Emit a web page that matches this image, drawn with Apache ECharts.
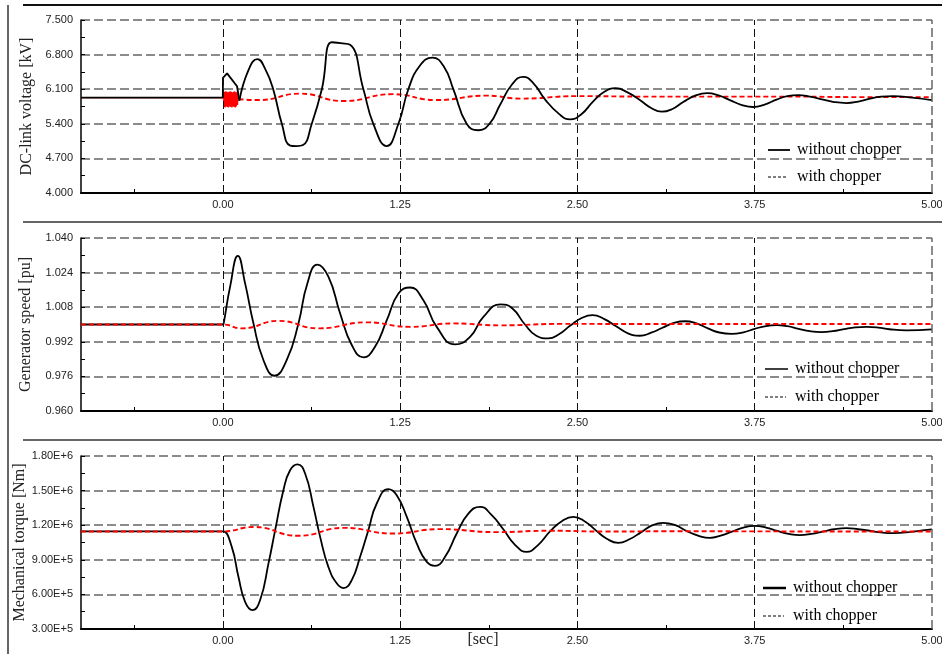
<!DOCTYPE html>
<html>
<head>
<meta charset="utf-8">
<script src="https://cdn.jsdelivr.net/npm/echarts@6/dist/echarts.min.js"></script>
<style>
html,body{margin:0;padding:0;background:#fff;}
#c{width:942px;height:654px;}
</style>
</head>
<body>
<div id="c"></div>
<script>
// ---------- axis ticks ----------
const X_TICKS = [0, 1.25, 2.5, 3.75, 5];
const X_TICK_LABELS = ['0.00', '1.25', '2.50', '3.75', '5.00'];
const X_MINOR_TICKS = [-0.625, 0.625, 1.875, 3.125, 4.375];

const Y1_TICK_LABELS = ['4.000', '4.700', '5.400', '6.100', '6.800', '7.500'];
const Y2_TICK_LABELS = ['0.960', '0.976', '0.992', '1.008', '1.024', '1.040'];
const Y3_TICK_LABELS = ['3.00E+5', '6.00E+5', '9.00E+5', '1.20E+6', '1.50E+6', '1.80E+6'];

// ---------- Panel 1 : DC-link voltage [kV] ----------
const T1_BLACK_EARLY = [-1, 0, 0.001, 0.03, 0.10, 0.117];
const V1_BLACK_EARLY = [5.93, 5.93, 6.33, 6.42, 6.16, 5.87];
const T1_BLACK = [0.117, 0.18, 0.244, 0.30, 0.355, 0.416, 0.475, 0.52, 0.565, 0.627, 0.698, 0.768, 0.83, 0.897, 0.991, 1.061, 1.155, 1.238, 1.308, 1.39, 1.477, 1.56, 1.625, 1.719, 1.80, 1.88, 1.954, 2.04, 2.118, 2.19, 2.27, 2.37, 2.448, 2.53, 2.61, 2.69, 2.77, 2.85, 2.94, 3.02, 3.094, 3.17, 3.246, 3.33, 3.415, 3.50, 3.575, 3.66, 3.74, 3.82, 3.904, 3.98, 4.056, 4.14, 4.233, 4.31, 4.397, 4.48, 4.562, 4.64, 4.726, 4.86, 5.0];
const V1_BLACK = [5.87, 6.48, 6.71, 6.50, 6.10, 5.40, 4.96, 4.95, 4.97, 5.40, 6.10, 7.05, 7.03, 7.00, 6.10, 5.40, 4.95, 5.40, 6.10, 6.58, 6.74, 6.55, 6.10, 5.40, 5.27, 5.40, 5.78, 6.20, 6.35, 6.22, 5.90, 5.60, 5.49, 5.60, 5.85, 6.05, 6.12, 6.04, 5.88, 5.72, 5.645, 5.70, 5.84, 5.97, 6.02, 5.97, 5.88, 5.78, 5.74, 5.79, 5.89, 5.96, 5.98, 5.95, 5.89, 5.84, 5.82, 5.85, 5.91, 5.95, 5.96, 5.93, 5.88];
const T1_RED_EARLY = [-1, 0, 0.004, 0.008, 0.012, 0.016, 0.020, 0.024, 0.028, 0.032, 0.036, 0.040, 0.044, 0.048, 0.052, 0.056, 0.060, 0.064, 0.068, 0.072, 0.076, 0.080, 0.084, 0.088, 0.092, 0.096, 0.100, 0.104, 0.108, 0.112];
const V1_RED_EARLY = [5.93, 5.93, 6.06, 5.74, 6.05, 5.73, 6.06, 5.75, 6.05, 5.74, 6.04, 5.73, 6.05, 5.75, 6.06, 5.74, 6.05, 5.73, 6.04, 5.75, 6.05, 5.74, 6.06, 5.73, 6.04, 5.75, 6.05, 5.78, 6.00, 5.90];
const T1_RED = [0.112, 0.25, 0.545, 0.85, 1.2, 1.5, 1.86, 2.1, 2.5, 3.0, 3.5, 4.0, 4.5, 5.0];
const V1_RED = [5.90, 5.88, 6.01, 5.86, 6.00, 5.88, 5.97, 5.91, 5.96, 5.95, 5.95, 5.95, 5.94, 5.94];

// ---------- Panel 2 : Generator speed [pu] ----------
const T2_BLACK = [-1, 0, 0.005, 0.051, 0.106, 0.157, 0.216, 0.286, 0.364, 0.451, 0.533, 0.596, 0.667, 0.745, 0.827, 0.909, 0.991, 1.073, 1.156, 1.238, 1.32, 1.414, 1.508, 1.637, 1.743, 1.837, 1.958, 2.04, 2.13, 2.21, 2.294, 2.37, 2.45, 2.53, 2.607, 2.69, 2.77, 2.86, 2.94, 3.02, 3.10, 3.18, 3.258, 3.34, 3.42, 3.50, 3.587, 3.67, 3.75, 3.83, 3.904, 3.98, 4.06, 4.14, 4.221, 4.30, 4.38, 4.46, 4.538, 4.62, 4.70, 4.82, 5.0];
const V2_BLACK = [1.000, 1.000, 1.0002, 1.0174, 1.0317, 1.019, 1.0005, 0.9836, 0.9763, 0.9836, 1.0005, 1.019, 1.0277, 1.022, 1.0051, 0.9905, 0.9848, 0.9897, 1.002, 1.0143, 1.0171, 1.0112, 0.9989, 0.9908, 0.9943, 1.0035, 1.0093, 1.0075, 1.000, 0.9948, 0.9936, 0.9955, 0.9995, 1.003, 1.0043, 1.0025, 0.9993, 0.9958, 0.9948, 0.9962, 0.9985, 1.0007, 1.0015, 1.0005, 0.9982, 0.9963, 0.9957, 0.9964, 0.998, 0.9993, 0.9997, 0.9992, 0.998, 0.9969, 0.9965, 0.9969, 0.9979, 0.9987, 0.9989, 0.9986, 0.9978, 0.9973, 0.9977];
const T2_RED = [-1, 0, 0.134, 0.392, 0.674, 1.015, 1.32, 1.625, 1.954, 2.4, 3.0, 4.0, 5.0];
const V2_RED = [1.000, 1.000, 0.9982, 1.0017, 0.9982, 1.001, 0.9989, 1.0005, 0.9996, 1.0003, 1.0002, 1.0002, 1.0002];

// ---------- Panel 3 : Mechanical torque [Nm] ----------
const T3_BLACK = [-1, 0, 0.005, 0.063, 0.11, 0.157, 0.209, 0.263, 0.322, 0.369, 0.427, 0.474, 0.526, 0.58, 0.639, 0.686, 0.744, 0.803, 0.85, 0.909, 0.968, 1.026, 1.085, 1.167, 1.226, 1.297, 1.367, 1.438, 1.496, 1.567, 1.649, 1.731, 1.813, 1.896, 1.98, 2.06, 2.142, 2.224, 2.31, 2.39, 2.471, 2.55, 2.63, 2.71, 2.788, 2.87, 2.95, 3.03, 3.105, 3.19, 3.27, 3.35, 3.434, 3.51, 3.59, 3.67, 3.751, 3.83, 3.91, 3.99, 4.068, 4.15, 4.23, 4.31, 4.397, 4.48, 4.56, 4.64, 4.726, 4.87, 5.0];
const V3_BLACK = [1.146e6, 1.146e6, 1.146e6, 1.012e6, 7.53e5, 5.36e5, 4.64e5, 5.51e5, 8.69e5, 1.157e6, 1.503e6, 1.676e6, 1.728e6, 1.648e6, 1.359e6, 1.099e6, 8.39e5, 6.96e5, 6.55e5, 7.24e5, 9.26e5, 1.157e6, 1.388e6, 1.512e6, 1.46e6, 1.272e6, 1.042e6, 8.82e5, 8.48e5, 9.26e5, 1.128e6, 1.301e6, 1.359e6, 1.287e6, 1.16e6, 1.03e6, 9.69e5, 1.03e6, 1.15e6, 1.235e6, 1.272e6, 1.235e6, 1.155e6, 1.08e6, 1.047e6, 1.08e6, 1.14e6, 1.2e6, 1.22e6, 1.2e6, 1.15e6, 1.11e6, 1.09e6, 1.11e6, 1.145e6, 1.18e6, 1.194e6, 1.18e6, 1.15e6, 1.125e6, 1.114e6, 1.125e6, 1.145e6, 1.165e6, 1.174e6, 1.165e6, 1.152e6, 1.137e6, 1.131e6, 1.145e6, 1.163e6];
const T3_RED = [-1, 0, 0.216, 0.533, 0.85, 1.2, 1.53, 1.93, 2.3, 2.7, 3.2, 4.0, 5.0];
const V3_RED = [1.146e6, 1.146e6, 1.185e6, 1.108e6, 1.177e6, 1.128e6, 1.166e6, 1.14e6, 1.152e6, 1.145e6, 1.148e6, 1.146e6, 1.146e6];

const SERIES_NAMES = ['without chopper', 'with chopper'];
const Y_NAMES = ['DC-link voltage [kV]', 'Generator speed [pu]', 'Mechanical torque [Nm]'];

// ---------- build ----------
function zip(t, v) { return t.map((x, i) => [x, v[i]]); }

const grids = [
  { left: 81, right: 10, top: 20, height: 173, outerBoundsMode: 'none', containLabel: false },
  { left: 81, right: 10, top: 238, height: 173, outerBoundsMode: 'none', containLabel: false },
  { left: 81, right: 10, top: 456, height: 173, outerBoundsMode: 'none', containLabel: false }
];
const yCfg = [
  { min: 4.0, max: 7.5, interval: 0.7, labels: Y1_TICK_LABELS, gap: 46 },
  { min: 0.96, max: 1.04, interval: 0.016, labels: Y2_TICK_LABELS, gap: 47 },
  { min: 3e5, max: 1.8e6, interval: 3e5, labels: Y3_TICK_LABELS, gap: 53 }
];

const xAxes = grids.map((g, i) => ({
  type: 'value', gridIndex: i, min: -1, max: 5,
  axisLine: { show: true, onZero: false, lineStyle: { color: '#000', width: 2 } },
  axisTick: { show: true, inside: true, length: 4, customValues: X_MINOR_TICKS, lineStyle: { color: '#000', width: 1 } },
  axisLabel: {
    show: true, customValues: X_TICKS, margin: 6,
    fontFamily: 'Liberation Sans, Arial, sans-serif', fontSize: 11, color: '#222',
    formatter: v => X_TICK_LABELS[X_TICKS.indexOf(+v)] ?? ''
  },
  splitLine: { show: false }
}));

const yAxes = yCfg.map((c, i) => ({
  type: 'value', gridIndex: i, min: c.min, max: c.max, interval: c.interval,
  name: Y_NAMES[i], nameLocation: 'middle', nameRotate: 90, nameGap: c.gap, nameMoveOverlap: false,
  nameTextStyle: { fontFamily: 'Liberation Serif, Times New Roman, serif', fontSize: 16, color: '#222' },
  axisLine: { show: true, onZero: false, lineStyle: { color: '#000', width: 1.5 } },
  axisTick: { show: true, inside: true, length: 4, lineStyle: { color: '#000' } },
  minorTick: { show: true, splitNumber: 2, length: 4, lineStyle: { color: '#000', width: 1 } },
  axisLabel: {
    margin: 8, fontFamily: 'Liberation Sans, Arial, sans-serif', fontSize: 11, color: '#222',
    formatter: v => c.labels[Math.round((v - c.min) / c.interval)]
  },
  splitLine: { show: true, showMinLine: false, lineStyle: { color: '#666', width: 1.5, type: [9, 4] } }
}));

const blackStyle = { color: '#000', width: 1.8, type: 'solid' };
const redStyle = { color: '#ff0000', width: 1.9, type: [5, 3] };

function line(name, data, idx, style, smooth, z) {
  return {
    name: name, type: 'line', xAxisIndex: idx, yAxisIndex: idx,
    data: data, showSymbol: false, symbol: 'none', smooth: smooth,
    lineStyle: style, itemStyle: { color: style.color }, z: z, animation: false, silent: true
  };
}

function gridLineSeries(idx, yMin) {
  return {
    type: 'line', xAxisIndex: idx, yAxisIndex: idx, data: [[0, yMin]],
    symbol: 'none', lineStyle: { opacity: 0 }, z: 1, silent: true, animation: false,
    markLine: {
      silent: true, symbol: 'none', animation: false, label: { show: false },
      data: X_TICKS.map(v => ({
        xAxis: v,
        lineStyle: v === 5 ? { color: '#666', width: 1.5, type: [9, 4] } : { color: '#111', width: 1, type: [8, 4] }
      }))
    }
  };
}

const SM = 0.5;
const series = [
  gridLineSeries(0, 4.0), gridLineSeries(1, 0.96), gridLineSeries(2, 3e5),
  line(SERIES_NAMES[1], zip(T1_RED_EARLY, V1_RED_EARLY), 0, { color: '#ff0000', width: 1.2, type: 'solid' }, false, 3),
  line(SERIES_NAMES[1], zip(T1_RED, V1_RED), 0, redStyle, SM, 3),
  line(SERIES_NAMES[0], zip(T1_BLACK_EARLY, V1_BLACK_EARLY), 0, blackStyle, false, 4),
  line(SERIES_NAMES[0], zip(T1_BLACK, V1_BLACK), 0, blackStyle, SM, 4),
  line(SERIES_NAMES[0], zip(T2_BLACK, V2_BLACK), 1, blackStyle, SM, 4),
  line(SERIES_NAMES[1], zip(T2_RED, V2_RED), 1, redStyle, SM, 5),
  line(SERIES_NAMES[0], zip(T3_BLACK, V3_BLACK), 2, blackStyle, SM, 4),
  line(SERIES_NAMES[1], zip(T3_RED, V3_RED), 2, redStyle, SM, 5)
];

// legend drawn as graphics (black solid / black dashed keys)
const legendPos = [
  { x1: 768, x2: 790, tx: 797, y1: 150, y2: 177, w: 1.8 },
  { x1: 765, x2: 788, tx: 795, y1: 369, y2: 397, w: 1.5 },
  { x1: 763, x2: 786, tx: 793, y1: 588, y2: 616, w: 2.5 }
];
const serif = 'Liberation Serif, Times New Roman, serif';
const graphics = [];
legendPos.forEach(p => {
  graphics.push({ type: 'line', shape: { x1: p.x1, y1: p.y1, x2: p.x2, y2: p.y1 }, style: { stroke: '#000', lineWidth: p.w }, z: 10 });
  graphics.push({ type: 'text', x: p.tx, y: p.y1, style: { text: SERIES_NAMES[0], font: '16px ' + serif, fill: '#000', textVerticalAlign: 'middle', verticalAlign: 'middle' }, z: 10 });
  graphics.push({ type: 'line', shape: { x1: p.x1, y1: p.y2, x2: p.x2 - 2, y2: p.y2 }, style: { stroke: '#000', lineWidth: 1.2, lineDash: [3, 2] }, z: 10 });
  graphics.push({ type: 'text', x: p.tx, y: p.y2, style: { text: SERIES_NAMES[1], font: '16px ' + serif, fill: '#000', textVerticalAlign: 'middle', verticalAlign: 'middle' }, z: 10 });
});
// frame and separators
graphics.push({ type: 'line', shape: { x1: 23, y1: 5, x2: 942, y2: 5 }, style: { stroke: '#111', lineWidth: 2 } });
graphics.push({ type: 'line', shape: { x1: 8, y1: 5, x2: 8, y2: 654 }, style: { stroke: '#333', lineWidth: 1.5 } });
graphics.push({ type: 'line', shape: { x1: 23, y1: 222, x2: 942, y2: 222 }, style: { stroke: '#666', lineWidth: 2 } });
graphics.push({ type: 'line', shape: { x1: 23, y1: 440, x2: 942, y2: 440 }, style: { stroke: '#666', lineWidth: 2 } });
graphics.push({ type: 'text', x: 483, y: 640, style: { text: '[sec]', font: '16px ' + serif, fill: '#222', align: 'center', verticalAlign: 'middle', textAlign: 'center', textVerticalAlign: 'middle' } });

const chart = echarts.init(document.getElementById('c'), null, { renderer: 'canvas' });
chart.setOption({
  animation: false,
  backgroundColor: '#fff',
  grid: grids,
  xAxis: xAxes,
  yAxis: yAxes,
  series: series,
  graphic: graphics
});
</script>
</body>
</html>
